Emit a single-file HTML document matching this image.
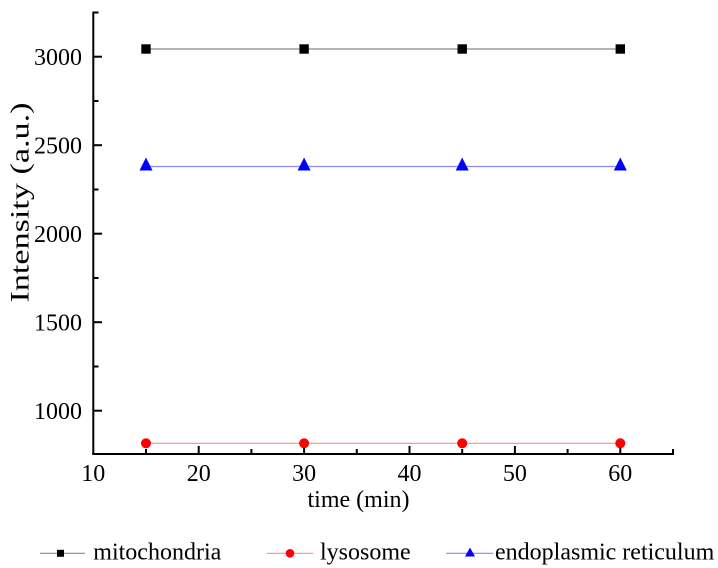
<!DOCTYPE html>
<html>
<head>
<meta charset="utf-8">
<style>
  html, body { margin: 0; padding: 0; background: #fff; }
  svg { display: block; }
  text { font-family: "Liberation Serif", "Times New Roman", serif; fill: #000; }
</style>
</head>
<body>
<svg width="718" height="568" viewBox="0 0 718 568" xmlns="http://www.w3.org/2000/svg">
  <!-- series lines -->
  <line x1="146" y1="49" x2="620.3" y2="49" stroke="#8a8a8a" stroke-width="1.2"/>
  <line x1="146" y1="166.5" x2="620.3" y2="166.5" stroke="#8888ff" stroke-width="1.2"/>
  <line x1="146" y1="443.3" x2="620.3" y2="443.3" stroke="#ff8c8c" stroke-width="1.2"/>

  <!-- axes -->
  <line x1="93.3" y1="11.5" x2="93.3" y2="455" stroke="#000" stroke-width="2"/>
  <line x1="92.3" y1="454" x2="674" y2="454" stroke="#000" stroke-width="2"/>

  <!-- y ticks major -->
  <g stroke="#000" stroke-width="2">
    <line x1="93" y1="56.7" x2="102" y2="56.7"/>
    <line x1="93" y1="145.2" x2="102" y2="145.2"/>
    <line x1="93" y1="233.7" x2="102" y2="233.7"/>
    <line x1="93" y1="322.2" x2="102" y2="322.2"/>
    <line x1="93" y1="410.7" x2="102" y2="410.7"/>
    <!-- minor -->
    <line x1="93" y1="12.5" x2="98.5" y2="12.5"/>
    <line x1="93" y1="101" x2="98.5" y2="101"/>
    <line x1="93" y1="189.5" x2="98.5" y2="189.5"/>
    <line x1="93" y1="278" x2="98.5" y2="278"/>
    <line x1="93" y1="366.5" x2="98.5" y2="366.5"/>
  </g>

  <!-- x ticks -->
  <g stroke="#000" stroke-width="2">
    <line x1="198.7" y1="454" x2="198.7" y2="446"/>
    <line x1="304.1" y1="454" x2="304.1" y2="446"/>
    <line x1="409.5" y1="454" x2="409.5" y2="446"/>
    <line x1="514.9" y1="454" x2="514.9" y2="446"/>
    <line x1="620.3" y1="454" x2="620.3" y2="446"/>
    <line x1="146" y1="454" x2="146" y2="449"/>
    <line x1="251.4" y1="454" x2="251.4" y2="449"/>
    <line x1="356.8" y1="454" x2="356.8" y2="449"/>
    <line x1="462.2" y1="454" x2="462.2" y2="449"/>
    <line x1="567.6" y1="454" x2="567.6" y2="449"/>
    <line x1="673" y1="454" x2="673" y2="449"/>
  </g>

  <!-- y tick labels -->
  <g font-size="24" text-anchor="end">
    <text x="82" y="65">3000</text>
    <text x="82" y="153.5">2500</text>
    <text x="82" y="242">2000</text>
    <text x="82" y="330.5">1500</text>
    <text x="82" y="419">1000</text>
  </g>

  <!-- x tick labels -->
  <g font-size="24" text-anchor="middle">
    <text x="93.3" y="481">10</text>
    <text x="198.7" y="481">20</text>
    <text x="304.1" y="481">30</text>
    <text x="409.5" y="481">40</text>
    <text x="514.9" y="481">50</text>
    <text x="620.3" y="481">60</text>
  </g>

  <!-- axis titles -->
  <text x="358.5" y="507" font-size="24" text-anchor="middle">time (min)</text>
  <text transform="translate(28.5,202.5) rotate(-90)" font-size="26" text-anchor="middle" textLength="200" lengthAdjust="spacingAndGlyphs">Intensity (a.u.)</text>

  <!-- markers: mitochondria squares -->
  <g fill="#000">
    <rect x="141.3" y="44.3" width="9.4" height="9.4"/>
    <rect x="299.4" y="44.3" width="9.4" height="9.4"/>
    <rect x="457.5" y="44.3" width="9.4" height="9.4"/>
    <rect x="615.6" y="44.3" width="9.4" height="9.4"/>
  </g>
  <!-- ER triangles -->
  <g fill="#0000ff">
    <polygon points="146,157.5 152.5,170.5 139.5,170.5"/>
    <polygon points="304.1,157.5 310.6,170.5 297.6,170.5"/>
    <polygon points="462.2,157.5 468.7,170.5 455.7,170.5"/>
    <polygon points="620.3,157.5 626.8,170.5 613.8,170.5"/>
  </g>
  <!-- lysosome circles -->
  <g fill="#ff0000">
    <circle cx="146" cy="443.3" r="5"/>
    <circle cx="304.1" cy="443.3" r="5"/>
    <circle cx="462.2" cy="443.3" r="5"/>
    <circle cx="620.3" cy="443.3" r="5"/>
  </g>

  <!-- legend -->
  <line x1="40" y1="553.3" x2="85" y2="553.3" stroke="#8a8a8a" stroke-width="1.2"/>
  <rect x="57" y="549.8" width="7" height="7" fill="#000"/>
  <text x="93.3" y="559.5" font-size="24">mitochondria</text>

  <line x1="266.7" y1="553.3" x2="313.3" y2="553.3" stroke="#ff8c8c" stroke-width="1.2"/>
  <circle cx="290" cy="553.3" r="4.3" fill="#ff0000"/>
  <text x="320" y="559.5" font-size="24">lysosome</text>

  <line x1="446" y1="553.3" x2="493.3" y2="553.3" stroke="#8888ff" stroke-width="1.2"/>
  <polygon points="470,547.5 475,556.5 465,556.5" fill="#0000ff"/>
  <text x="495" y="559.5" font-size="24">endoplasmic reticulum</text>
</svg>
</body>
</html>
